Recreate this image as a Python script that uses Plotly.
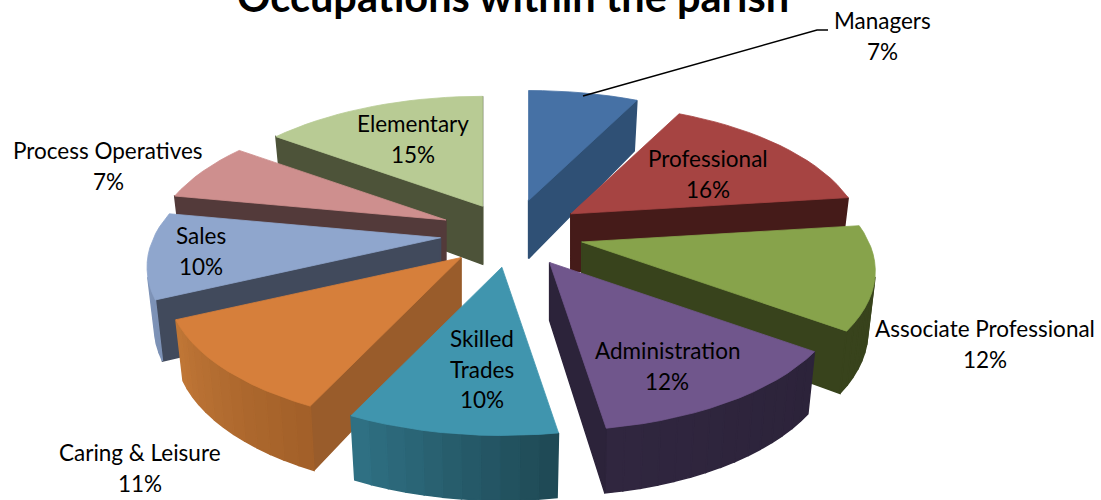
import numpy as np
import plotly.graph_objects as go

TITLE = "Occupations within the parish"

categories = [
    "Managers",
    "Professional",
    "Associate Professional",
    "Administration",
    "Skilled Trades",
    "Caring & Leisure",
    "Sales",
    "Process Operatives",
    "Elementary",
]
# the labels only show them rounded
shares = [7.4, 15.6, 12, 12.5, 9.5, 11, 10, 7, 15]
# how far each slice is pulled out, 1 = the usual amount
pulls = [1, 1, 1, 1, 1, 1, 1, 1, 0.9]

top_colours = ["#4671a5", "#a64442", "#87a34b", "#70568c", "#4095ae", "#d67f3b", "#8fa6cd", "#ce8f8e", "#b8cb94"]
wall_colours = ["#2f5075", "#451b19", "#38431c", "#2c233a", "#255a69", "#995c2b", "#414a5c", "#533a3a", "#4d5339"]
rim_start_colours = ["#2f5075", "#451b19", "#38431c", "#2c233a", "#1f4a56", "#a36029", "#7d92b6", "#533a3a", "#4d5339"]
rim_end_colours = ["#2f5075", "#451b19", "#38431c", "#30263f", "#2f7083", "#bf7636", "#8196bb", "#533a3a", "#4d5339"]

# label lines and where each block of text sits in the picture
label_lines = [
    ["Managers", "7%"],
    ["Professional", "16%"],
    ["Associate Professional", "12%"],
    ["Administration", "12%"],
    ["Skilled", "Trades", "10%"],
    ["Caring & Leisure", "11%"],
    ["Sales", "10%"],
    ["Process Operatives", "7%"],
    ["Elementary", "15%"],
]
label_x = [882, 708, 985, 667, 482, 140, 201, 108, 413]
label_y = [20.5, 158.5, 328.5, 350.5, 338.5, 452.5, 235.5, 150.5, 123.5]
leader_x = [583, 817, 828]
leader_y = [96, 30, 30]

# fake 3d pie: tilted disc with a bit of perspective
CENTRE = (512, 233.5)
RX, RY = 287, 133
PERSPECTIVE = 0.21
EXPLODE_X, EXPLODE_Y = 72, 34
DEPTH = 58
DEPTH_FRONT = 11
BOTTOM_SHRINK = 0.975
STEP = 3  # degrees per rim strip


def project(angle):
    X, Y = np.sin(angle), -np.cos(angle)
    f = 1 / (1 - PERSPECTIVE * Y)
    return RX * X * f, RY * Y * f, Y


def mix(c1, c2, t):
    a = [int(c1[i:i + 2], 16) for i in (1, 3, 5)]
    b = [int(c2[i:i + 2], 16) for i in (1, 3, 5)]
    return "#" + "".join(f"{round(p + (q - p) * t):02x}" for p, q in zip(a, b))


def signed_area(xs, ys):
    return sum(xs[i] * ys[(i + 1) % len(xs)] - xs[(i + 1) % len(xs)] * ys[i] for i in range(len(xs)))


def add_poly(fig, xs, ys, colour, name=None, line_width=0.8):
    fig.add_trace(
        go.Scatter(
            x=list(xs) + [xs[0]],
            y=list(ys) + [ys[0]],
            mode="lines",
            fill="toself",
            fillcolor=colour,
            line=dict(color=colour, width=line_width),
            hoverinfo="text" if name else "skip",
            text=name,
            showlegend=False,
        )
    )


def add_slice(fig, i, start, end):
    mid = (start + end) / 2
    tx = CENTRE[0] + pulls[i] * EXPLODE_X * np.sin(mid)
    ty = CENTRE[1] - pulls[i] * EXPLODE_Y * np.cos(mid)

    n = max(2, int(np.degrees(end - start) / STEP) + 1)
    angles = np.linspace(start, end, n)
    top = [(tx, ty, 0.0)]
    for a in angles:
        px_, py_, Y = project(a)
        top.append((tx + px_, ty + py_, Y))

    def bottom(p):
        return (
            tx + (p[0] - tx) * BOTTOM_SHRINK,
            ty + (p[1] - ty) * BOTTOM_SHRINK + DEPTH + DEPTH_FRONT * p[2],
        )

    # sides, walk the outline and keep only those facing the viewer
    m = len(top)
    for k in range(m):
        p, q = top[k], top[(k + 1) % m]
        pb, qb = bottom(p), bottom(q)
        xs = [p[0], q[0], qb[0], pb[0]]
        ys = [p[1], q[1], qb[1], pb[1]]
        if signed_area(xs, ys) >= 0:
            continue
        if k == 0 or k == m - 1:
            colour = wall_colours[i]
        else:
            colour = mix(rim_start_colours[i], rim_end_colours[i], (k - 1) / max(1, m - 3))
        add_poly(fig, xs, ys, colour, line_width=1.5)

    add_poly(
        fig,
        [p[0] for p in top],
        [p[1] for p in top],
        top_colours[i],
        f"{categories[i]}: {label_lines[i][-1]}",
    )


fig = go.Figure()

edges = np.radians(np.cumsum([0] + shares) * 3.6)
mids = (edges[:-1] + edges[1:]) / 2
# back slices first so the front ones paint over them
for i in np.argsort(np.cos(mids))[::-1]:
    add_slice(fig, int(i), edges[i], edges[i + 1])

fig.add_trace(
    go.Scatter(
        x=leader_x,
        y=leader_y,
        mode="lines",
        line=dict(color="black", width=1.5),
        hoverinfo="skip",
        showlegend=False,
    )
)

LINE_GAP = 30.5
for lines, x, y in zip(label_lines, label_x, label_y):
    for k, line in enumerate(lines):
        fig.add_annotation(
            x=x,
            y=y + k * LINE_GAP,
            text=line,
            showarrow=False,
            font=dict(family="Lato", size=22.5, color="black"),
        )

fig.add_annotation(
    x=513,
    y=23,
    yanchor="bottom",
    text=f"<b>{TITLE}</b>",
    showarrow=False,
    font=dict(family="Lato", size=41.5, color="black"),
)

fig.update_xaxes(visible=False, range=[0, 1101], fixedrange=True)
fig.update_yaxes(visible=False, range=[500, 0], fixedrange=True)
fig.update_layout(
    width=1101,
    height=500,
    margin=dict(l=0, r=0, t=0, b=0),
    paper_bgcolor="white",
    plot_bgcolor="white",
    showlegend=False,
)

fig.write_html(
    "out.html",
    config={"displayModeBar": False},
    post_script="document.body.style.margin = '0';",
)
